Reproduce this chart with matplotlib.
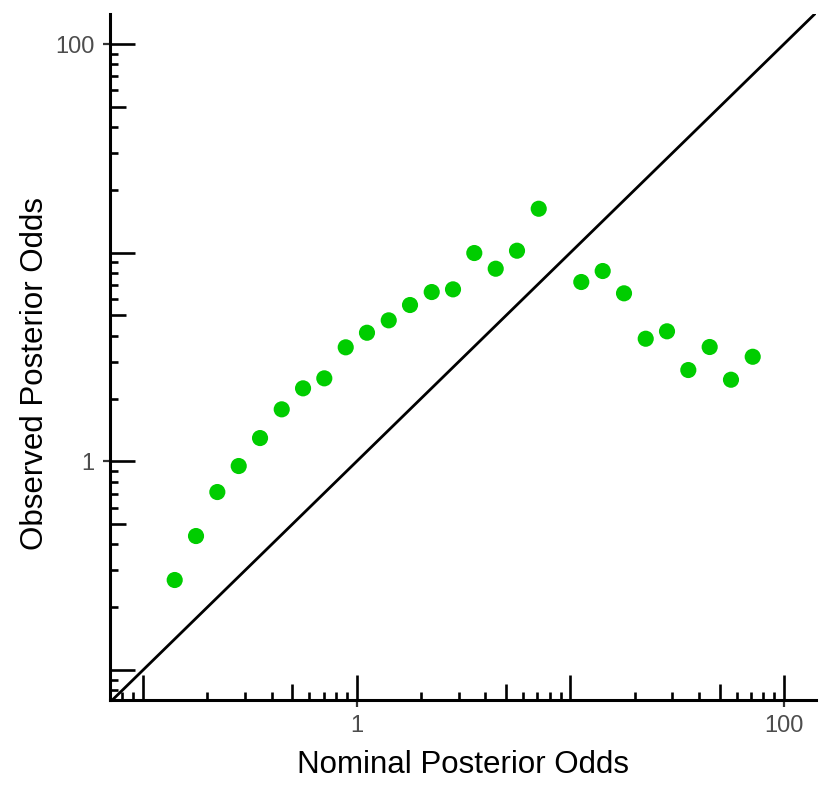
import numpy as np
import matplotlib
matplotlib.use("Agg")
import matplotlib.pyplot as plt
from matplotlib.transforms import blended_transform_factory

plt.rcParams['font.family'] = ['Liberation Sans', 'DejaVu Sans']

nominal = [0.1406, 0.1769, 0.2226, 0.2803, 0.3527, 0.4456, 0.5607, 0.7051, 0.8882,
           1.117, 1.412, 1.776, 2.244, 2.823, 3.551, 4.473, 5.627, 7.111,
           11.25, 14.17, 17.83, 22.53, 28.34, 35.66, 44.89, 56.48, 71.38]
observed = [0.2699, 0.4385, 0.7126, 0.9495, 1.293, 1.775, 2.238, 2.499, 3.519,
            4.133, 4.740, 5.613, 6.477, 6.672, 9.962, 8.378, 10.22, 16.24,
            7.235, 8.168, 6.386, 3.869, 4.199, 2.739, 3.531, 2.461, 3.171]
tick_vals = [1, 100]
tick_labels = ["1", "100"]

W, H = 830, 788
fig = plt.figure(figsize=(W / 100, H / 100), dpi=100)
L, R, T, B = 110, 816, 14, 700
ax = fig.add_axes([L / W, (H - B) / H, (R - L) / W, (B - T) / H])
ax.set_xscale('log')
ax.set_yscale('log')
ax.set_xlim(0.0700, 141.2)
ax.set_ylim(0.0718, 139.3)

ax.axline((1, 1), (10, 10), color='black', lw=2.0, zorder=2)
ax.scatter(nominal, observed, s=135, color='#00CD00', edgecolors='none', zorder=3)

for s in ['top', 'right']:
    ax.spines[s].set_visible(False)
for s in ['left', 'bottom']:
    ax.spines[s].set_linewidth(2.2)
    ax.spines[s].set_color('black')

ax.set_xticks(tick_vals)
ax.set_xticklabels(tick_labels)
ax.set_yticks(tick_vals)
ax.set_yticklabels(tick_labels)
ax.minorticks_off()
ax.tick_params(axis='both', which='major', direction='out', length=5, width=1.6,
               color='#333333', labelcolor='#4D4D4D', labelsize=17)
ax.tick_params(axis='x', pad=6)
ax.tick_params(axis='y', pad=6)

# log ticks inside the panel
pw, ph = R - L, B - T
lens = {1: 25, 5: 16, 2: 8, 3: 8, 4: 8, 6: 8, 7: 8, 8: 8, 9: 8}
tx = blended_transform_factory(ax.transData, ax.transAxes)
ty = blended_transform_factory(ax.transAxes, ax.transData)
for e in range(-2, 3):
    for m in range(1, 10):
        v = m * 10.0 ** e
        ln = lens[m]
        if 0.0700 <= v <= 141.2:
            ax.plot([v, v], [0, ln / ph], transform=tx, color='black', lw=1.9,
                    solid_capstyle='butt', clip_on=False, zorder=4)
        if 0.0718 <= v <= 139.3:
            ax.plot([0, ln / pw], [v, v], transform=ty, color='black', lw=1.9,
                    solid_capstyle='butt', clip_on=False, zorder=4)

ax.set_xlabel('Nominal Posterior Odds', fontsize=22.5, color='black', labelpad=9)
ax.set_ylabel('Observed Posterior Odds', fontsize=22.5, color='black')
ax.yaxis.set_label_coords((50 - L) / pw, (B - 373) / ph)

fig.savefig('out.png', dpi=100)
